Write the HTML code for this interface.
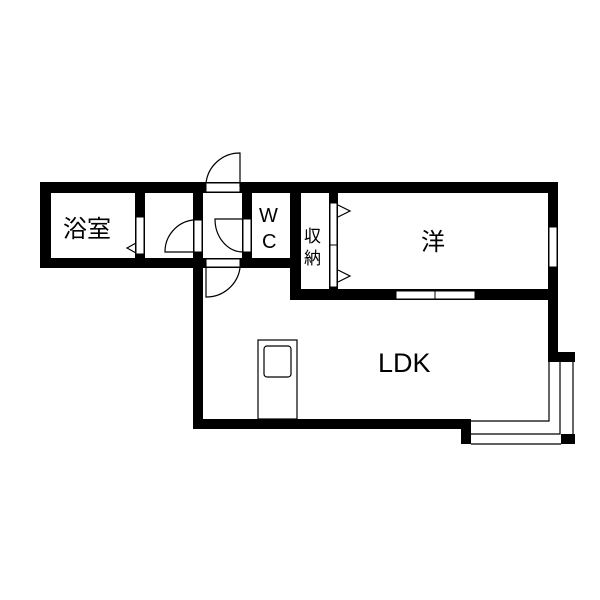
<!DOCTYPE html>
<html><head><meta charset="utf-8"><style>
html,body{margin:0;padding:0;background:#fff;}
svg{display:block;}
text{font-family:"Liberation Sans","Noto Sans CJK JP",sans-serif;fill:#000;}
</style></head><body>
<svg width="600" height="600" viewBox="0 0 600 600" xmlns="http://www.w3.org/2000/svg">
<rect width="600" height="600" fill="#fff"/>
<g fill="#000">
<!-- top strip walls -->
<rect x="40" y="182" width="518" height="11"/>
<rect x="40" y="182" width="11" height="86"/>
<rect x="40" y="258" width="261" height="10"/>
<rect x="135" y="182" width="10" height="86"/>
<rect x="193" y="182" width="10" height="247"/>
<rect x="242" y="182" width="10" height="86"/>
<rect x="290" y="182" width="11" height="118"/>
<rect x="329" y="182" width="9" height="118"/>
<rect x="290" y="289" width="268" height="11"/>
<rect x="548" y="182" width="10" height="180"/>
<rect x="548" y="352" width="27" height="10"/>
<rect x="193" y="419" width="278" height="10"/>
<rect x="461" y="419" width="10" height="25"/>
<rect x="561" y="434" width="14" height="10"/>
</g>
<g fill="#fff" stroke="#000" stroke-width="1">
<!-- bath sliding door -->
<rect x="136" y="217" width="8" height="37"/>
<!-- doors -->
<rect x="194" y="220" width="8" height="32"/>
<rect x="206" y="183" width="34" height="9"/>
<rect x="243" y="219" width="8" height="33"/>
<rect x="206" y="259" width="34" height="8"/>
<!-- closet doors -->
<rect x="330" y="203" width="7" height="42"/>
<rect x="330" y="245" width="7" height="42"/>
<!-- windows -->
<rect x="549" y="227" width="8" height="40"/>
<rect x="396" y="291" width="39" height="8"/>
<rect x="435" y="291" width="40" height="8"/>
</g>
<g fill="none" stroke="#000" stroke-width="1.2">
<path d="M193 220 A32 32 0 0 0 165 252 L193 252"/>
<path d="M240 187 L240 153 A34 34 0 0 0 206 183"/>
<path d="M242 219 L215 219 A28 33 0 0 0 242 252"/>
<path d="M206 263 L206 297 A34 34 0 0 0 240 268"/>
<path d="M136 243 L127 248 L136 253"/>
<path d="M338 205 L350 211 L338 217"/>
<path d="M338 270 L350 276 L338 282"/>
<!-- bay window -->
<path d="M549 362 L549 421 L471 421"/>
<path d="M560 362 L560 434 L471 434"/>
<path d="M573 362 L573 434"/>
<path d="M471 444 L561 444"/>
<!-- kitchen -->
<rect x="258" y="340" width="39" height="79"/>
<rect x="264" y="346" width="27" height="31" rx="3"/>
</g>
<text x="63" y="237" font-size="24">浴室</text>
<text x="259" y="222" font-size="20">W</text>
<text x="262" y="248" font-size="20">C</text>
<text x="304" y="242" font-size="17">収</text>
<text x="304" y="264" font-size="17">納</text>
<text x="421" y="250" font-size="24">洋</text>
<text x="378" y="372" font-size="27">LDK</text>
</svg>
</body></html>
